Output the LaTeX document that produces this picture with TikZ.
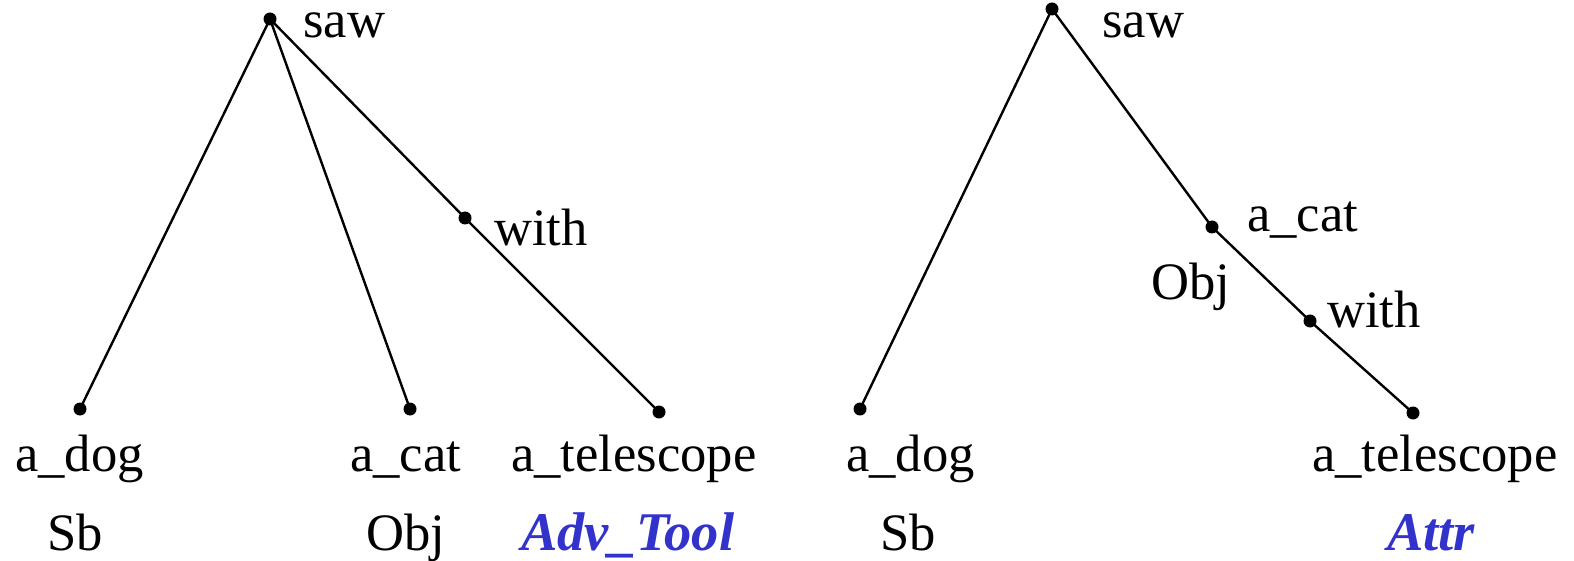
\documentclass[tikz,border=0pt]{standalone}
\usepackage{fontspec}
\setmainfont{Liberation Serif}
\definecolor{lblblue}{HTML}{3333CC}
\begin{document}
\begin{tikzpicture}[x=1pt,y=-1pt,
  dot/.style={circle,fill=black,inner sep=0pt,minimum size=13pt},
  word/.style={anchor=base west,inner sep=0pt,font=\fontsize{52.6}{60}\selectfont},
  lowword/.style={word,text height=25pt},
  fn/.style={word,text=lblblue,font=\fontsize{54.5}{60}\selectfont\bfseries\itshape},
  edge/.style={line width=2.4pt}]
\useasboundingbox (0,0) rectangle (1574,561);
% left tree
\node[dot] (Lsaw) at (270,19) {};
\node[dot] (Ldog) at (80,409) {};
\node[dot] (Lcat) at (410,409) {};
\node[dot] (Lwith) at (465,218) {};
\node[dot] (Ltel) at (659,412) {};
\draw[edge] (Lsaw.center) -- (Ldog.center);
\draw[edge] (Lsaw.center) -- (Lcat.center);
\draw[edge] (Lsaw.center) -- (Lwith.center);
\draw[edge] (Lwith.center) -- (Ltel.center);
\node[lowword] (LsawT) at (303,38) {saw};
\node[word] (LwithT) at (494,246) {with};
\node[word] (LdogT) at (15,471) {a\_dog};
\node[word] (LcatT) at (350,471) {a\_cat};
\node[word] (LtelT) at (511,471) {a\_telescope};
\node[word] (LSb) at (47,550) {Sb};
\node[word] (LObj) at (366,550) {Obj};
\node[fn] (LAdv) at (521,550) {Adv\_Tool};
% right tree
\node[dot] (Rsaw) at (1052,9) {};
\node[dot] (Rdog) at (860,409) {};
\node[dot] (Rcat) at (1212,227) {};
\node[dot] (Rwith) at (1310,321) {};
\node[dot] (Rtel) at (1413,413) {};
\draw[edge] (Rsaw.center) -- (Rdog.center);
\draw[edge] (Rsaw.center) -- (Rcat.center);
\draw[edge] (Rcat.center) -- (Rwith.center);
\draw[edge] (Rwith.center) -- (Rtel.center);
\node[lowword] (RsawT) at (1102,38) {saw};
\node[word] (RcatT) at (1247,232) {a\_cat};
\node[word] (RObjT) at (1151,300) {Obj};
\node[word] (RwithT) at (1327,327) {with};
\node[word] (RdogT) at (846,471) {a\_dog};
\node[word] (RtelT) at (1312,471) {a\_telescope};
\node[word] (RSb) at (880,550) {Sb};
\node[fn] (RAttr) at (1387,550) {Attr};
\end{tikzpicture}
\end{document}
